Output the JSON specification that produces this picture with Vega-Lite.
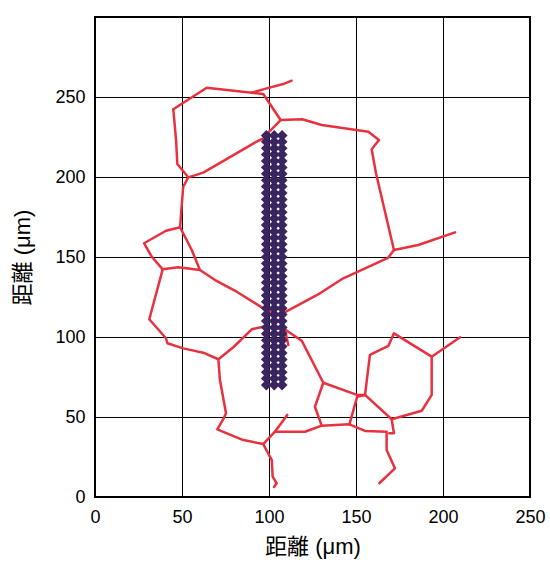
{
  "$schema": "https://vega.github.io/schema/vega-lite/v6.json",
  "width": 435,
  "height": 480,
  "autosize": {"type": "none"},
  "padding": {"left": 95, "top": 17, "right": 20, "bottom": 68},
  "background": "white",
  "config": {
    "view": {"stroke": "#000", "strokeWidth": 2},
    "axis": {
      "grid": true,
      "gridColor": "#000",
      "gridOpacity": 1,
      "gridWidth": 1,
      "domain": false,
      "ticks": false,
      "labelFlush": false,
      "labelFont": "Liberation Sans",
      "labelFontSize": 18,
      "labelColor": "#000",
      "titleFont": "Liberation Sans, Noto Sans CJK JP",
      "titleFontSize": 22,
      "titleFontWeight": "normal",
      "titleColor": "#000"
    }
  },
  "datasets": {
    "net": [
      {"seg": "s1", "ord": 1, "x": 45.0, "y": 242.3},
      {"seg": "s1", "ord": 2, "x": 64.2, "y": 255.8},
      {"seg": "s1", "ord": 3, "x": 90.1, "y": 252.7},
      {"seg": "s1", "ord": 4, "x": 96.7, "y": 251.9},
      {"seg": "s1", "ord": 5, "x": 106.7, "y": 235.6},
      {"seg": "s1", "ord": 6, "x": 119.1, "y": 236.1},
      {"seg": "s1", "ord": 7, "x": 130.3, "y": 232.5},
      {"seg": "s1", "ord": 8, "x": 157.1, "y": 228.3},
      {"seg": "s1", "ord": 9, "x": 163.2, "y": 223.1},
      {"seg": "s1", "ord": 10, "x": 159.0, "y": 217.3},
      {"seg": "s1", "ord": 11, "x": 161.5, "y": 202.3},
      {"seg": "s1", "ord": 12, "x": 171.8, "y": 154.4},
      {"seg": "s1", "ord": 13, "x": 185.8, "y": 157.5},
      {"seg": "s1", "ord": 14, "x": 206.9, "y": 165.4},
      {"seg": "s2", "ord": 1, "x": 90.1, "y": 252.7},
      {"seg": "s2", "ord": 2, "x": 98.7, "y": 255.4},
      {"seg": "s2", "ord": 3, "x": 108.2, "y": 258.1},
      {"seg": "s2", "ord": 4, "x": 113.0, "y": 260.2},
      {"seg": "s3", "ord": 1, "x": 106.7, "y": 235.6},
      {"seg": "s3", "ord": 2, "x": 100.6, "y": 228.9},
      {"seg": "s3", "ord": 3, "x": 96.7, "y": 224.2},
      {"seg": "s3", "ord": 4, "x": 92.9, "y": 222.1},
      {"seg": "s3", "ord": 5, "x": 62.2, "y": 202.7},
      {"seg": "s3", "ord": 6, "x": 53.6, "y": 199.8},
      {"seg": "s4", "ord": 1, "x": 45.0, "y": 242.3},
      {"seg": "s4", "ord": 2, "x": 46.6, "y": 223.1},
      {"seg": "s4", "ord": 3, "x": 47.3, "y": 208.1},
      {"seg": "s4", "ord": 4, "x": 53.6, "y": 199.8},
      {"seg": "s4", "ord": 5, "x": 50.7, "y": 193.9},
      {"seg": "s4", "ord": 6, "x": 49.8, "y": 181.4},
      {"seg": "s4", "ord": 7, "x": 48.9, "y": 168.6},
      {"seg": "s4", "ord": 8, "x": 40.8, "y": 166.4},
      {"seg": "s4", "ord": 9, "x": 28.2, "y": 158.6},
      {"seg": "s4", "ord": 10, "x": 32.6, "y": 150.2},
      {"seg": "s4", "ord": 11, "x": 38.9, "y": 142.3},
      {"seg": "s4", "ord": 12, "x": 47.9, "y": 143.6},
      {"seg": "s4", "ord": 13, "x": 60.3, "y": 141.9},
      {"seg": "s4", "ord": 14, "x": 69.0, "y": 135.6},
      {"seg": "s4", "ord": 15, "x": 81.4, "y": 128.3},
      {"seg": "s4", "ord": 16, "x": 96.7, "y": 117.9},
      {"seg": "s4", "ord": 17, "x": 106.3, "y": 113.8},
      {"seg": "s4", "ord": 18, "x": 129.3, "y": 127.3},
      {"seg": "s4", "ord": 19, "x": 142.7, "y": 136.7},
      {"seg": "s4", "ord": 20, "x": 168.4, "y": 149.4},
      {"seg": "s4", "ord": 21, "x": 171.8, "y": 154.4},
      {"seg": "s5", "ord": 1, "x": 48.9, "y": 168.6},
      {"seg": "s5", "ord": 2, "x": 55.6, "y": 154.4},
      {"seg": "s5", "ord": 3, "x": 60.3, "y": 141.9},
      {"seg": "s6", "ord": 1, "x": 38.9, "y": 142.3},
      {"seg": "s6", "ord": 2, "x": 31.2, "y": 111.1},
      {"seg": "s6", "ord": 3, "x": 40.8, "y": 99.2},
      {"seg": "s6", "ord": 4, "x": 41.6, "y": 96.1},
      {"seg": "s6", "ord": 5, "x": 50.7, "y": 92.9},
      {"seg": "s6", "ord": 6, "x": 62.2, "y": 90.2},
      {"seg": "s6", "ord": 7, "x": 70.9, "y": 86.1},
      {"seg": "s6", "ord": 8, "x": 79.5, "y": 93.6},
      {"seg": "s6", "ord": 9, "x": 90.1, "y": 104.8},
      {"seg": "s6", "ord": 10, "x": 96.7, "y": 106.4},
      {"seg": "s6", "ord": 11, "x": 109.2, "y": 104.7},
      {"seg": "s6", "ord": 12, "x": 118.8, "y": 97.7},
      {"seg": "s6", "ord": 13, "x": 131.2, "y": 71.4},
      {"seg": "s6", "ord": 14, "x": 150.5, "y": 63.8},
      {"seg": "s6", "ord": 15, "x": 155.2, "y": 63.8},
      {"seg": "s6", "ord": 16, "x": 158.0, "y": 88.8},
      {"seg": "s6", "ord": 17, "x": 168.6, "y": 94.4},
      {"seg": "s6", "ord": 18, "x": 171.8, "y": 102.3},
      {"seg": "s6", "ord": 19, "x": 193.5, "y": 87.7},
      {"seg": "s6", "ord": 20, "x": 209.8, "y": 99.8},
      {"seg": "s7", "ord": 1, "x": 109.2, "y": 104.7},
      {"seg": "s7", "ord": 2, "x": 111.1, "y": 95.0},
      {"seg": "s8", "ord": 1, "x": 70.9, "y": 86.1},
      {"seg": "s8", "ord": 2, "x": 71.8, "y": 73.1},
      {"seg": "s8", "ord": 3, "x": 75.3, "y": 52.3},
      {"seg": "s8", "ord": 4, "x": 73.7, "y": 48.6},
      {"seg": "s8", "ord": 5, "x": 70.3, "y": 42.3},
      {"seg": "s8", "ord": 6, "x": 85.2, "y": 35.6},
      {"seg": "s8", "ord": 7, "x": 96.7, "y": 33.1},
      {"seg": "s8", "ord": 8, "x": 101.6, "y": 23.1},
      {"seg": "s8", "ord": 9, "x": 102.1, "y": 12.7},
      {"seg": "s8", "ord": 10, "x": 104.4, "y": 8.6},
      {"seg": "s8", "ord": 11, "x": 102.9, "y": 6.3},
      {"seg": "s9", "ord": 1, "x": 96.7, "y": 33.1},
      {"seg": "s9", "ord": 2, "x": 103.4, "y": 40.8},
      {"seg": "s9", "ord": 3, "x": 110.5, "y": 51.3},
      {"seg": "s10", "ord": 1, "x": 103.4, "y": 40.8},
      {"seg": "s10", "ord": 2, "x": 120.7, "y": 40.8},
      {"seg": "s10", "ord": 3, "x": 130.3, "y": 44.6},
      {"seg": "s10", "ord": 4, "x": 146.2, "y": 45.4},
      {"seg": "s10", "ord": 5, "x": 155.2, "y": 41.3},
      {"seg": "s10", "ord": 6, "x": 167.6, "y": 40.8},
      {"seg": "s10", "ord": 7, "x": 167.6, "y": 29.4},
      {"seg": "s10", "ord": 8, "x": 172.4, "y": 17.9},
      {"seg": "s10", "ord": 9, "x": 163.4, "y": 8.6},
      {"seg": "s11", "ord": 1, "x": 131.2, "y": 71.4},
      {"seg": "s11", "ord": 2, "x": 126.4, "y": 56.4},
      {"seg": "s11", "ord": 3, "x": 130.3, "y": 44.6},
      {"seg": "s12", "ord": 1, "x": 146.2, "y": 45.4},
      {"seg": "s12", "ord": 2, "x": 150.7, "y": 62.7},
      {"seg": "s12", "ord": 3, "x": 155.2, "y": 63.8},
      {"seg": "s13", "ord": 1, "x": 155.2, "y": 63.8},
      {"seg": "s13", "ord": 2, "x": 170.5, "y": 48.6},
      {"seg": "s13", "ord": 3, "x": 171.8, "y": 39.8},
      {"seg": "s13", "ord": 4, "x": 169.1, "y": 39.8},
      {"seg": "s14", "ord": 1, "x": 193.5, "y": 87.7},
      {"seg": "s14", "ord": 2, "x": 193.5, "y": 63.8},
      {"seg": "s14", "ord": 3, "x": 187.8, "y": 53.9},
      {"seg": "s14", "ord": 4, "x": 170.5, "y": 48.6},
      {"seg": "s15", "ord": 1, "x": 106.3, "y": 113.8},
      {"seg": "s15", "ord": 2, "x": 109.2, "y": 104.7}
    ],
    "dots": [
      {"x": 98.5, "y": 70}, {"x": 103, "y": 70}, {"x": 107.5, "y": 70},
      {"x": 98.5, "y": 74}, {"x": 103, "y": 74}, {"x": 107.5, "y": 74},
      {"x": 98.5, "y": 78}, {"x": 103, "y": 78}, {"x": 107.5, "y": 78},
      {"x": 98.5, "y": 82}, {"x": 103, "y": 82}, {"x": 107.5, "y": 82},
      {"x": 98.5, "y": 86}, {"x": 103, "y": 86}, {"x": 107.5, "y": 86},
      {"x": 98.5, "y": 90}, {"x": 103, "y": 90}, {"x": 107.5, "y": 90},
      {"x": 98.5, "y": 94}, {"x": 103, "y": 94}, {"x": 107.5, "y": 94},
      {"x": 98.5, "y": 98}, {"x": 103, "y": 98}, {"x": 107.5, "y": 98},
      {"x": 98.5, "y": 102}, {"x": 103, "y": 102}, {"x": 107.5, "y": 102},
      {"x": 98.5, "y": 106}, {"x": 103, "y": 106}, {"x": 107.5, "y": 106},
      {"x": 98.5, "y": 110}, {"x": 103, "y": 110}, {"x": 107.5, "y": 110},
      {"x": 98.5, "y": 114}, {"x": 103, "y": 114}, {"x": 107.5, "y": 114},
      {"x": 98.5, "y": 118}, {"x": 103, "y": 118}, {"x": 107.5, "y": 118},
      {"x": 98.5, "y": 122}, {"x": 103, "y": 122}, {"x": 107.5, "y": 122},
      {"x": 98.5, "y": 126}, {"x": 103, "y": 126}, {"x": 107.5, "y": 126},
      {"x": 98.5, "y": 130}, {"x": 103, "y": 130}, {"x": 107.5, "y": 130},
      {"x": 98.5, "y": 134}, {"x": 103, "y": 134}, {"x": 107.5, "y": 134},
      {"x": 98.5, "y": 138}, {"x": 103, "y": 138}, {"x": 107.5, "y": 138},
      {"x": 98.5, "y": 142}, {"x": 103, "y": 142}, {"x": 107.5, "y": 142},
      {"x": 98.5, "y": 146}, {"x": 103, "y": 146}, {"x": 107.5, "y": 146},
      {"x": 98.5, "y": 150}, {"x": 103, "y": 150}, {"x": 107.5, "y": 150},
      {"x": 98.5, "y": 154}, {"x": 103, "y": 154}, {"x": 107.5, "y": 154},
      {"x": 98.5, "y": 158}, {"x": 103, "y": 158}, {"x": 107.5, "y": 158},
      {"x": 98.5, "y": 162}, {"x": 103, "y": 162}, {"x": 107.5, "y": 162},
      {"x": 98.5, "y": 166}, {"x": 103, "y": 166}, {"x": 107.5, "y": 166},
      {"x": 98.5, "y": 170}, {"x": 103, "y": 170}, {"x": 107.5, "y": 170},
      {"x": 98.5, "y": 174}, {"x": 103, "y": 174}, {"x": 107.5, "y": 174},
      {"x": 98.5, "y": 178}, {"x": 103, "y": 178}, {"x": 107.5, "y": 178},
      {"x": 98.5, "y": 182}, {"x": 103, "y": 182}, {"x": 107.5, "y": 182},
      {"x": 98.5, "y": 186}, {"x": 103, "y": 186}, {"x": 107.5, "y": 186},
      {"x": 98.5, "y": 190}, {"x": 103, "y": 190}, {"x": 107.5, "y": 190},
      {"x": 98.5, "y": 194}, {"x": 103, "y": 194}, {"x": 107.5, "y": 194},
      {"x": 98.5, "y": 198}, {"x": 103, "y": 198}, {"x": 107.5, "y": 198},
      {"x": 98.5, "y": 202}, {"x": 103, "y": 202}, {"x": 107.5, "y": 202},
      {"x": 98.5, "y": 206}, {"x": 103, "y": 206}, {"x": 107.5, "y": 206},
      {"x": 98.5, "y": 210}, {"x": 103, "y": 210}, {"x": 107.5, "y": 210},
      {"x": 98.5, "y": 214}, {"x": 103, "y": 214}, {"x": 107.5, "y": 214},
      {"x": 98.5, "y": 218}, {"x": 103, "y": 218}, {"x": 107.5, "y": 218},
      {"x": 98.5, "y": 222}, {"x": 103, "y": 222}, {"x": 107.5, "y": 222},
      {"x": 98.5, "y": 226}, {"x": 103, "y": 226}, {"x": 107.5, "y": 226}
    ]
  },
  "layer": [
    {
      "data": {"name": "net"},
      "mark": {"type": "line", "color": "#e8313f", "strokeWidth": 2.5, "strokeJoin": "round", "strokeCap": "round"},
      "encoding": {
        "x": {
          "field": "x", "type": "quantitative",
          "scale": {"domain": [0, 250], "nice": false, "zero": false},
          "axis": {"values": [0, 50, 100, 150, 200, 250], "labelPadding": 11, "title": "距離 (μm)", "titlePadding": 10}
        },
        "y": {
          "field": "y", "type": "quantitative",
          "scale": {"domain": [0, 300], "nice": false, "zero": false},
          "axis": {"values": [0, 50, 100, 150, 200, 250], "labelPadding": 10, "title": "距離 (μm)", "titlePadding": 20}
        },
        "detail": {"field": "seg"},
        "order": {"field": "ord", "type": "quantitative"}
      }
    },
    {
      "data": {"name": "dots"},
      "mark": {"type": "point", "shape": "diamond", "filled": true, "size": 121, "color": "#3a2560", "opacity": 1},
      "encoding": {
        "x": {"field": "x", "type": "quantitative"},
        "y": {"field": "y", "type": "quantitative"}
      }
    }
  ]
}
